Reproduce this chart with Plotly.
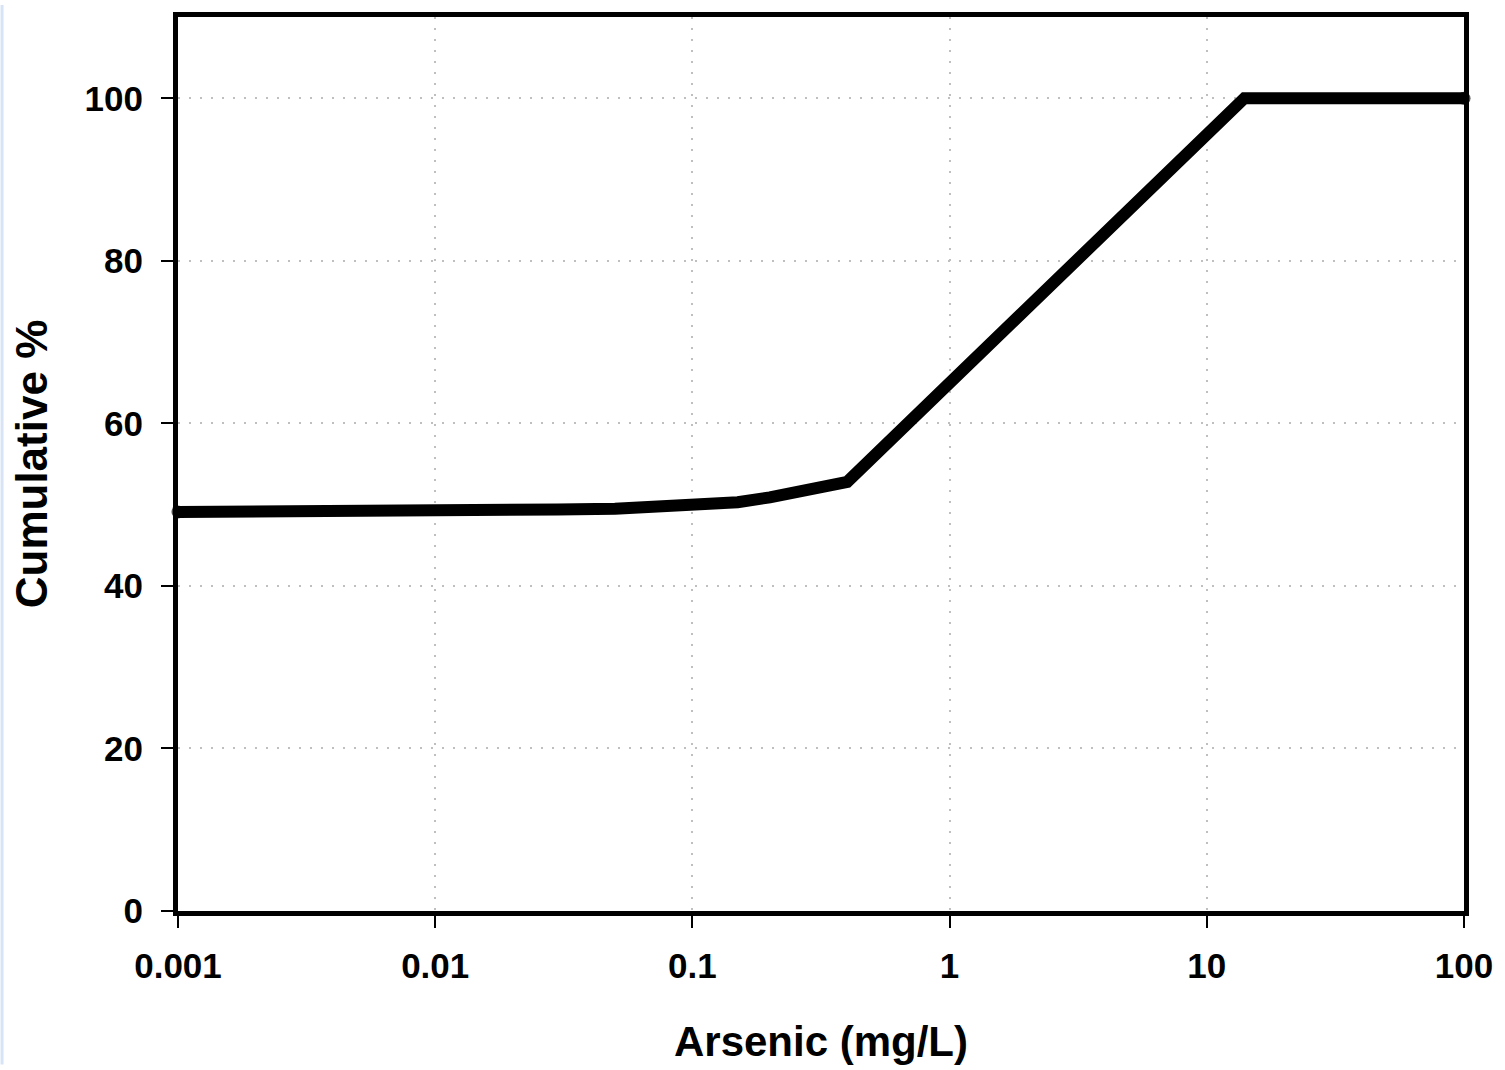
import plotly.graph_objects as go

arsenic_mg_l = [0.001, 0.002, 0.005, 0.01, 0.013, 0.03, 0.05, 0.08, 0.1, 0.15, 0.2, 0.25, 0.3, 0.4, 14, 100]
cumulative_pct = [49.1, 49.1, 49.1, 49.1, 49.3, 49.4, 49.5, 49.7, 49.9, 50.3, 50.9, 51.4, 52.0, 52.8, 100, 100]

x_tick_vals = [0.001, 0.01, 0.1, 1, 10, 100]
x_tick_text = ["0.001", "0.01", "0.1", "1", "10", "100"]
y_tick_vals = [0, 20, 40, 60, 80, 100]

FONT = "Liberation Sans, Arial, sans-serif"

n = len(arsenic_mg_l)
end_marker_sizes = [13 if i in (0, n - 1) else 0 for i in range(n)]

fig = go.Figure()
fig.add_trace(go.Scatter(
    x=arsenic_mg_l, y=cumulative_pct, mode="lines+markers",
    line=dict(color="black", width=12),
    marker=dict(color="black", size=end_marker_sizes, line=dict(width=0)),
    showlegend=False, hoverinfo="skip", cliponaxis=False,
))

W, H = 1505, 1070
L, R, T, B = 178, 37, 12, 155
pw, ph = W - L - R, H - T - B

fig.update_layout(
    width=W, height=H,
    margin=dict(l=L, r=R, t=T, b=B, pad=0),
    paper_bgcolor="white", plot_bgcolor="white",
    font=dict(family=FONT, color="black"),
    shapes=[dict(type="rect", xref="paper", yref="paper",
                 x0=-L / pw, x1=(-L + 3) / pw, y0=-B / ph, y1=1 + T / ph,
                 fillcolor="#d8e4f6", line=dict(width=0), layer="below")],
)

fig.update_xaxes(
    type="log", range=[-3, 2],
    tickvals=x_tick_vals, ticktext=x_tick_text,
    ticks="outside", ticklen=12, tickwidth=2, tickcolor="black",
    tickfont=dict(family=FONT, size=35, color="black", weight="bold"),
    ticklabelstandoff=8,
    showline=True, linecolor="black", linewidth=5, mirror=True,
    showgrid=True, gridcolor="#bfbfbf", gridwidth=2, griddash="2px,9px",
    zeroline=False,
    title=dict(text="<b>Arsenic (mg/L)</b>", font=dict(family=FONT, size=42, color="black"), standoff=44),
)
fig.update_yaxes(
    range=[0, 110],
    tickvals=y_tick_vals,
    ticks="outside", ticklen=12, tickwidth=2, tickcolor="black",
    tickfont=dict(family=FONT, size=35, color="black", weight="bold"),
    ticklabelstandoff=11,
    showline=True, linecolor="black", linewidth=5, mirror=True,
    showgrid=True, gridcolor="#bfbfbf", gridwidth=2, griddash="2px,9px",
    zeroline=False,
    title=dict(text="<b>Cumulative %</b>", font=dict(family=FONT, size=44, color="black"), standoff=25),
)

fig.write_html("out.html", config={"displayModeBar": False},
               post_script="document.body.style.margin='0';document.body.style.padding='0';")
